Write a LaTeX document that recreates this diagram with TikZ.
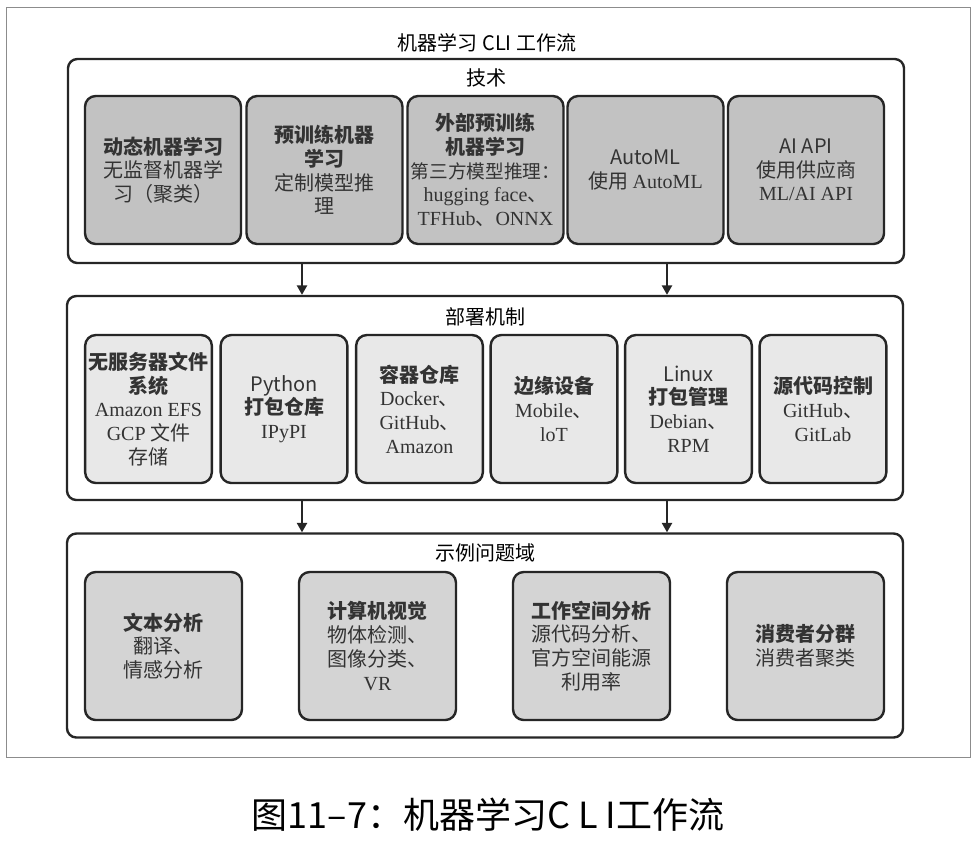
\documentclass[tikz,border=0pt]{standalone}
\usepackage{fontspec}
\setmainfont{Noto Sans CJK SC}
\newfontfamily\serif{Liberation Serif}
\usetikzlibrary{calc,arrows.meta}

\begin{document}
\begin{tikzpicture}[x=0.75pt, y=-0.75pt,
    panel/.style={draw=black!85, line width=1.8pt, rounded corners=7pt, fill=white,
      minimum width=627pt, minimum height=153pt, inner sep=0pt},
    box/.style={draw=black!85, line width=1.8pt, rounded corners=8pt,
      minimum height=111pt, inner sep=0pt, align=center, text=black!80,
      font=\fontsize{15}{17.8}\selectfont},
    techbox/.style={box, fill=black!24, minimum width=117pt},
    deploybox/.style={box, fill=black!9, minimum width=95pt},
    domainbox/.style={box, fill=black!17, minimum width=117.75pt},
    flow/.style={line width=1.5pt, draw=black!85, -{Triangle[width=7.5pt, length=7pt]}}]
  \useasboundingbox (0,0) rectangle (974,844);
  % outer frame
  \draw[black!45, line width=0.6pt] (6,7) rectangle (970,757);
  \node[font=\fontsize{15}{18}\selectfont] (title) at (487,43) {机器学习 CLI 工作流};
  % panels
  \node[panel] (tech) at (486,161) {};
  \node[panel] (deploy) at (485,398) {};
  \node[panel] (domain) at (485,635.5) {};
  \node[font=\fontsize{15}{18}\selectfont] (techtitle) at (486,78) {技术};
  \node[font=\fontsize{15}{18}\selectfont] (deploytitle) at (485,317) {部署机制};
  \node[font=\fontsize{15}{18}\selectfont] (domaintitle) at (485,553) {示例问题域};
  % connectors
  \draw[flow] ($(tech.south)+(-184,0)$) -- ($(deploy.north)+(-183,0)$);
  \draw[flow] ($(tech.south)+(181,0)$) -- ($(deploy.north)+(182,0)$);
  \draw[flow] ($(deploy.south)+(-183,0)$) -- ($(domain.north)+(-183,0)$);
  \draw[flow] ($(deploy.south)+(182,0)$) -- ($(domain.north)+(182,0)$);
  % technology
  \node[techbox] (dynml) at (163,170) {{\bfseries 动态机器学习}\\无监督机器学\\习（聚类）};
  \node[techbox] (preml) at (324.5,170) {{\bfseries 预训练机器}\\{\bfseries 学习}\\定制模型推\\理};
  \node[techbox] (extml) at (485.5,170) {{\bfseries 外部预训练}\\{\bfseries 机器学习}\\{\fontsize{14}{17.8}\selectfont 第三方模型推理：}\\{\serif hugging face}、\\{\serif TFHub}、{\serif ONNX}};
  \node[techbox] (automl) at (645.5,170) {AutoML\\使用 {\serif AutoML}};
  \node[techbox] (aiapi) at (806,170) {AI API\\使用供应商\\{\serif ML/AI API}};
  % deployment
  \node[deploybox] (efs) at (148.5,409) {{\bfseries 无服务器文件}\\{\bfseries 系统}\\{\serif Amazon EFS}\\{\serif GCP} 文件\\存储};
  \node[deploybox] (pypi) at (284,409) {Python\\{\bfseries 打包仓库}\\{\serif IPyPI}};
  \node[deploybox] (registry) at (419.5,409) {{\bfseries 容器仓库}\\{\serif Docker}、\\{\serif GitHub}、\\{\serif Amazon}};
  \node[deploybox] (edge) at (554,409) {{\bfseries 边缘设备}\\{\serif Mobile}、\\{\serif loT}};
  \node[deploybox] (linux) at (688.5,409) {Linux\\{\bfseries 打包管理}\\{\serif Debian}、\\{\serif RPM}};
  \node[deploybox] (scm) at (823,409) {{\bfseries 源代码控制}\\{\serif GitHub}、\\{\serif GitLab}};
  % problem domains
  \node[domainbox] (text) at (163.5,646) {{\bfseries 文本分析}\\翻译、\\情感分析};
  \node[domainbox] (vision) at (377.5,646) {{\bfseries 计算机视觉}\\物体检测、\\图像分类、\\{\serif VR}};
  \node[domainbox] (workspace) at (591.5,646) {{\bfseries 工作空间分析}\\源代码分析、\\官方空间能源\\利用率};
  \node[domainbox] (customer) at (805.5,646) {{\bfseries 消费者分群}\\消费者聚类};
  % caption
  \node[font=\fontsize{27}{32}\selectfont] (caption) at (488,815) {图11–7：机器学习C L I工作流};
\end{tikzpicture}
\end{document}
